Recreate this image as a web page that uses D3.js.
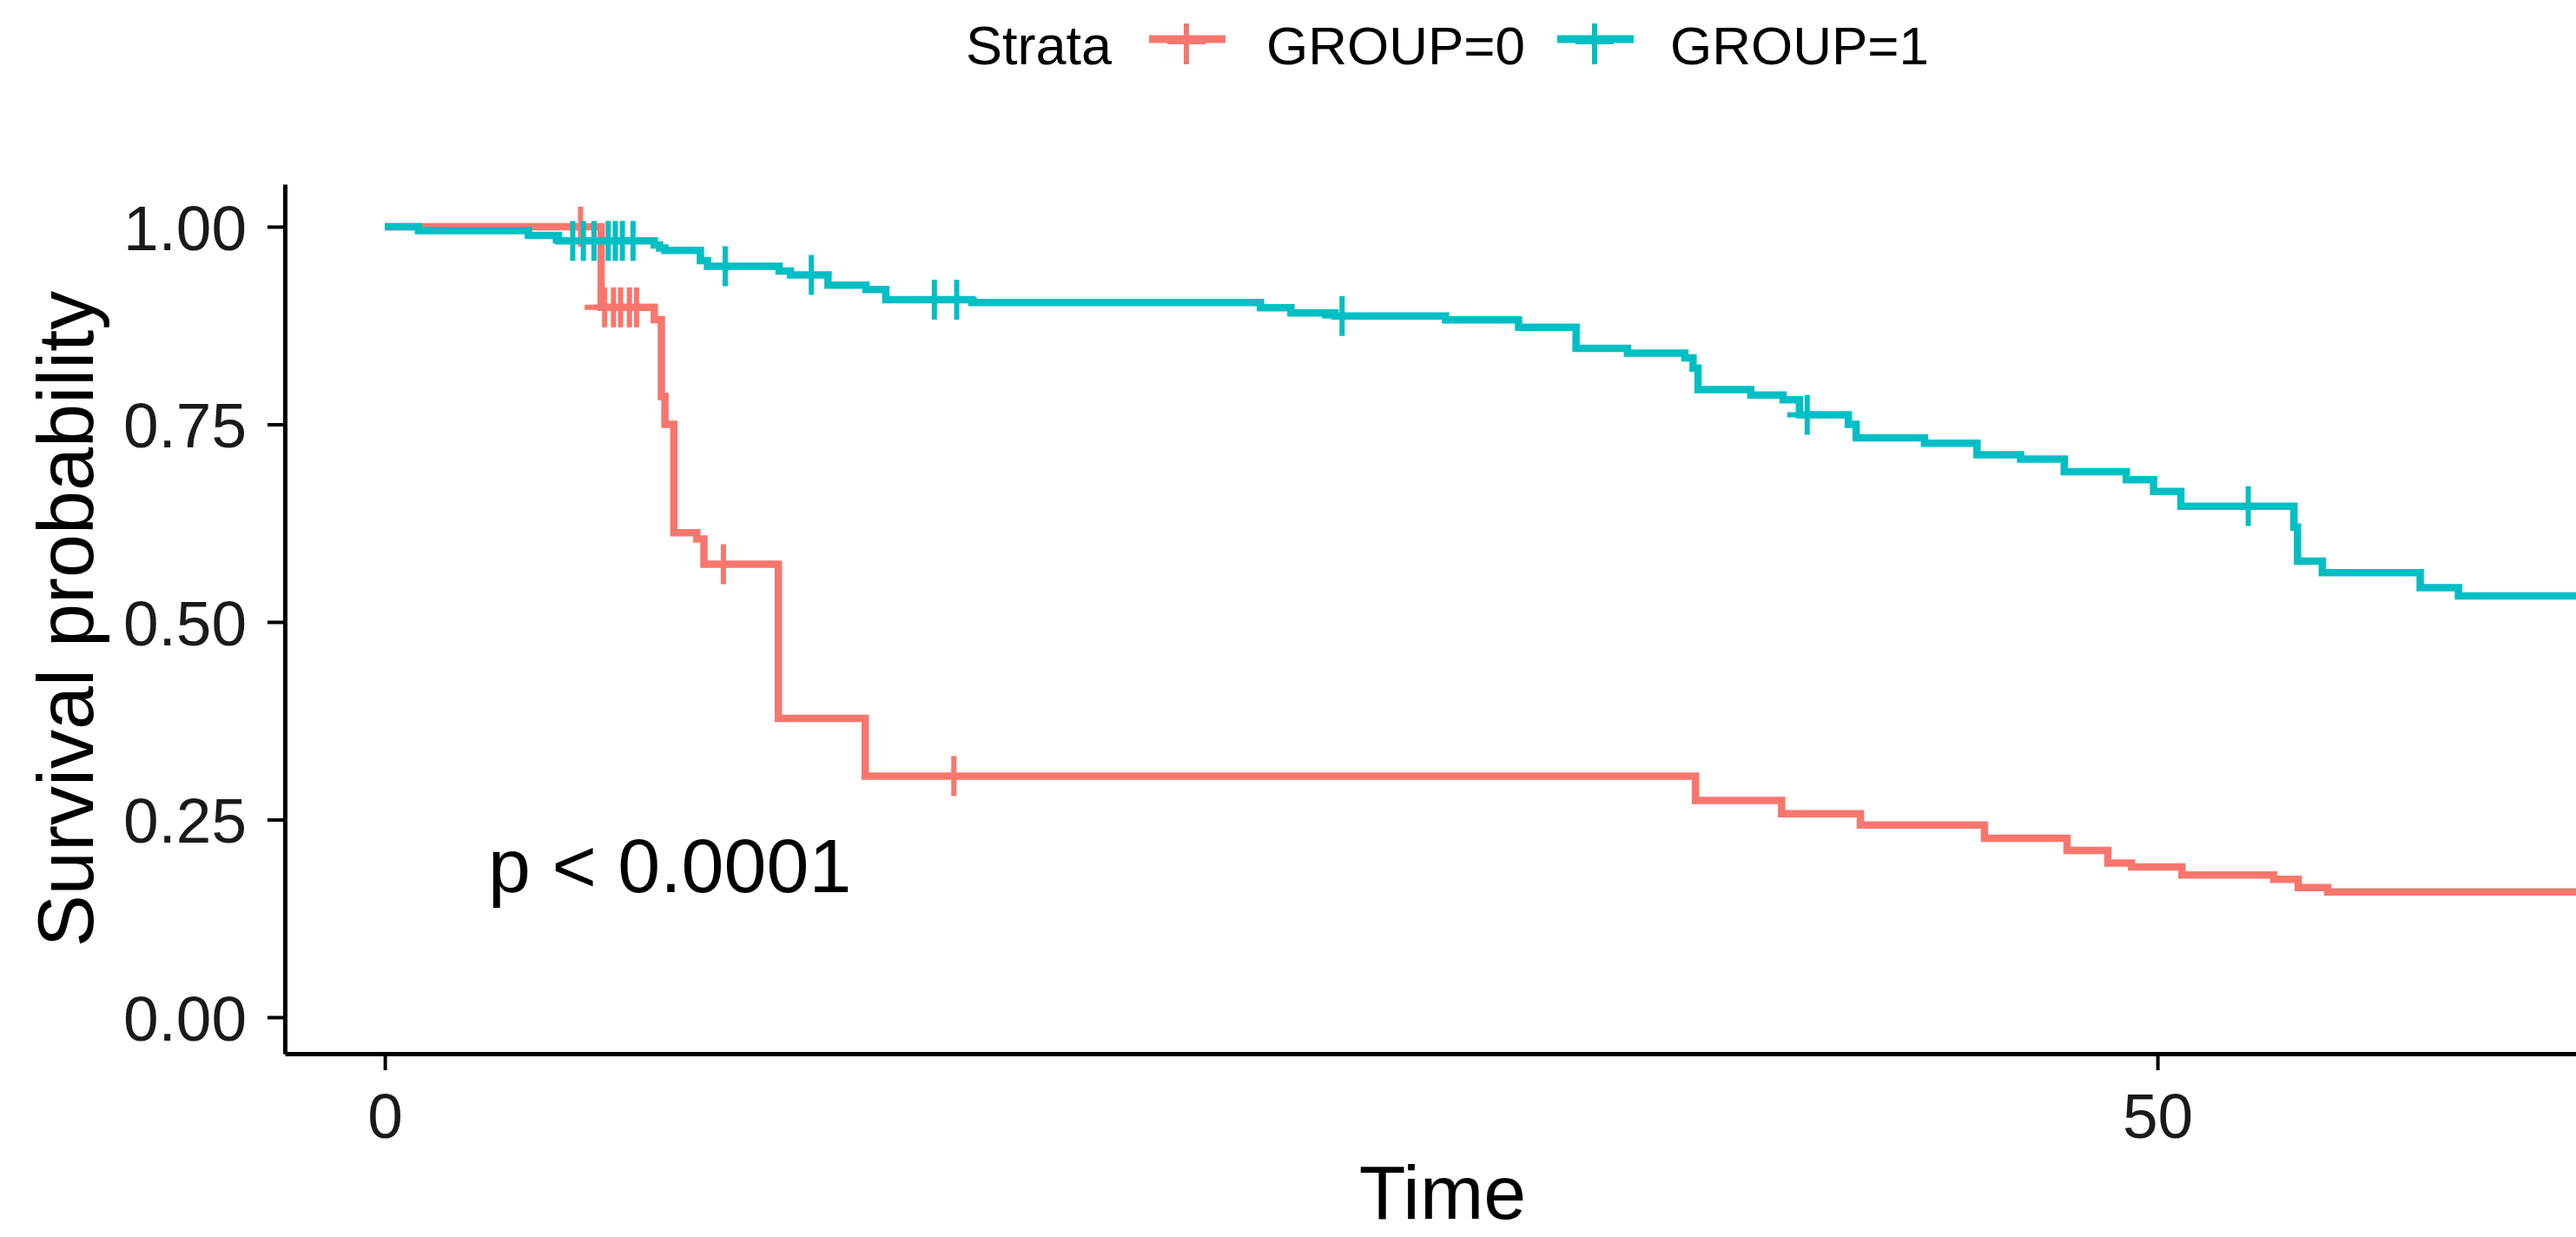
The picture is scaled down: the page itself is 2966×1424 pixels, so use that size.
<!DOCTYPE html>
<html>
<head>
<meta charset="utf-8">
<script src="https://cdn.jsdelivr.net/npm/d3@7"></script>
<style>
  html, body { margin: 0; padding: 0; background: #ffffff; }
  svg { display: block; font-family: "Liberation Sans", Arial, sans-serif; }
</style>
</head>
<body>
<svg id="chart" width="2966" height="1424"></svg>
<script>
// Kaplan-Meier estimates: event times and survival after each step
const strata = ["GROUP=0", "GROUP=1"];
const colors = ["#F8766D", "#00BFC4"];
const lastTime = 63;

const time0 = [6.1, 7.6, 7.8, 7.9, 8.15, 8.8, 9.0, 11.1, 13.55, 36.97, 39.4, 41.62, 45.12, 47.45, 48.6, 49.27, 50.69, 53.28, 53.97, 54.8];
const surv0 = [0.898, 0.8825, 0.785, 0.750, 0.613, 0.605, 0.573, 0.378, 0.305, 0.274, 0.2575, 0.243, 0.2264, 0.211, 0.195, 0.190, 0.180, 0.1744, 0.164, 0.1586];
const censor0 = [5.52, 6.2, 6.45, 6.65, 6.9, 7.1, 9.55, 16.05];

const time1 = [0.95, 4.05, 4.9, 7.6, 7.75, 7.9, 8.9, 9.1, 11.12, 11.44, 12.5, 13.57, 14.13, 16.56, 24.7, 25.56, 26.8, 29.92, 31.98, 33.6, 35.05, 36.67, 36.9, 37.04, 38.53, 39.44, 39.9, 41.28, 41.5, 43.43, 44.91, 46.14, 47.37, 49.12, 49.89, 50.66, 53.85, 53.95, 54.65, 57.41, 58.49];
const surv1 = [0.995, 0.989, 0.982, 0.977, 0.973, 0.970, 0.957, 0.950, 0.944, 0.939, 0.926, 0.9205, 0.9077, 0.904, 0.8976, 0.891, 0.887, 0.882, 0.8727, 0.846, 0.840, 0.834, 0.821, 0.794, 0.787, 0.781, 0.762, 0.750, 0.733, 0.726, 0.7116, 0.706, 0.690, 0.680, 0.665, 0.6465, 0.620, 0.577, 0.5624, 0.5434, 0.533];
const censor1 = [5.3, 5.6, 5.9, 6.3, 6.5, 6.7, 7.0, 9.6, 12.03, 15.5, 16.13, 27.0, 40.12, 52.56];

const xTicks = [0, 50];
const yTicks = [0, 0.25, 0.5, 0.75, 1];
const pLabel = "p < 0.0001";

const series = [
  { name: strata[0], color: colors[0], times: time0, surv: surv0, censor: censor0 },
  { name: strata[1], color: colors[1], times: time1, surv: surv1, censor: censor1 }
];

const svg = d3.select("#chart");
const panel = { left: 328, top: 212, right: 2967, bottom: 1213 };

const x = d3.scaleLinear().domain([-2.82, 61.83]).range([panel.left, panel.right]);
const y = d3.scaleLinear().domain([-0.0462, 1.0538]).range([panel.bottom, panel.top]);

svg.append("defs").append("clipPath").attr("id", "panel-clip")
  .append("rect")
  .attr("x", panel.left).attr("y", panel.top - 40)
  .attr("width", panel.right - panel.left).attr("height", panel.bottom - panel.top + 40);

// survival value in force at time t (right-continuous step function)
function survAt(s, t) {
  let v = 1;
  for (let i = 0; i < s.times.length; i++) {
    if (s.times[i] <= t) v = s.surv[i]; else break;
  }
  return v;
}

const line = d3.line()
  .x(d => x(d[0]))
  .y(d => y(d[1]))
  .curve(d3.curveStepAfter);

const plot = svg.append("g").attr("clip-path", "url(#panel-clip)");

series.forEach(s => {
  const pts = [[0, 1]].concat(s.times.map((t, i) => [t, s.surv[i]]));
  pts.push([lastTime, s.surv[s.surv.length - 1]]);
  plot.append("path")
    .datum(pts)
    .attr("fill", "none")
    .attr("stroke", s.color)
    .attr("stroke-width", 8.5)
    .attr("d", line);
});

// censoring marks
const half = 23;
series.forEach(s => {
  const g = plot.append("g").attr("stroke", s.color).attr("stroke-width", 6);
  s.censor.forEach(t => {
    const cx = x(t), cy = y(survAt(s, t));
    g.append("line").attr("x1", cx - half).attr("x2", cx + half).attr("y1", cy).attr("y2", cy);
    g.append("line").attr("x1", cx).attr("x2", cx).attr("y1", cy - half).attr("y2", cy + half);
  });
});

// axes
const xAxis = svg.append("g")
  .attr("transform", `translate(0,${panel.bottom})`)
  .call(d3.axisBottom(x).tickValues(xTicks).tickFormat(d3.format("d")).tickSize(19).tickPadding(26).tickSizeOuter(0));
const yAxis = svg.append("g")
  .attr("transform", `translate(${panel.left},0)`)
  .call(d3.axisLeft(y).tickValues(yTicks).tickFormat(d3.format(".2f")).tickSize(20).tickPadding(24).tickSizeOuter(0));

[xAxis, yAxis].forEach(a => {
  a.select(".domain").attr("stroke", "#000").attr("stroke-width", 5);
  a.selectAll(".tick line").attr("stroke", "#000").attr("stroke-width", 4);
  a.selectAll(".tick text")
    .attr("fill", "#1a1a1a")
    .style("font-size", "73px")
    .style("font-family", "'Liberation Sans', Arial, sans-serif");
});
yAxis.selectAll(".tick text").attr("dy", "0.36em");

// axis titles
svg.append("text")
  .attr("x", 1661).attr("y", 1403)
  .attr("text-anchor", "middle")
  .style("font-size", "88px")
  .attr("fill", "#000")
  .text("Time");

svg.append("text")
  .attr("transform", `translate(107,${(panel.top + panel.bottom) / 2}) rotate(-90)`)
  .attr("text-anchor", "middle")
  .style("font-size", "90px")
  .attr("fill", "#000")
  .text("Survival probability");

// p-value annotation
svg.append("text")
  .attr("x", 562).attr("y", 1027)
  .style("font-size", "88px")
  .attr("fill", "#000")
  .text(pLabel);

// legend
const legend = svg.append("g");
legend.append("text")
  .attr("x", 1112).attr("y", 74)
  .style("font-size", "63px")
  .attr("fill", "#000")
  .text("Strata");

const keyX = [1323, 1793];
const labelX = [1458, 1923];
series.forEach((s, i) => {
  const k = legend.append("g").attr("stroke", s.color);
  k.append("line").attr("x1", keyX[i]).attr("x2", keyX[i] + 88).attr("y1", 45).attr("y2", 45).attr("stroke-width", 9);
  const cx = keyX[i] + 43;
  k.append("line").attr("x1", cx - 22).attr("x2", cx + 22).attr("y1", 48).attr("y2", 48).attr("stroke-width", 6);
  k.append("line").attr("x1", cx).attr("x2", cx).attr("y1", 27).attr("y2", 74).attr("stroke-width", 6);
  legend.append("text")
    .attr("x", labelX[i]).attr("y", 74)
    .style("font-size", "62px")
    .attr("fill", "#000")
    .text(s.name);
});
</script>
</body>
</html>
